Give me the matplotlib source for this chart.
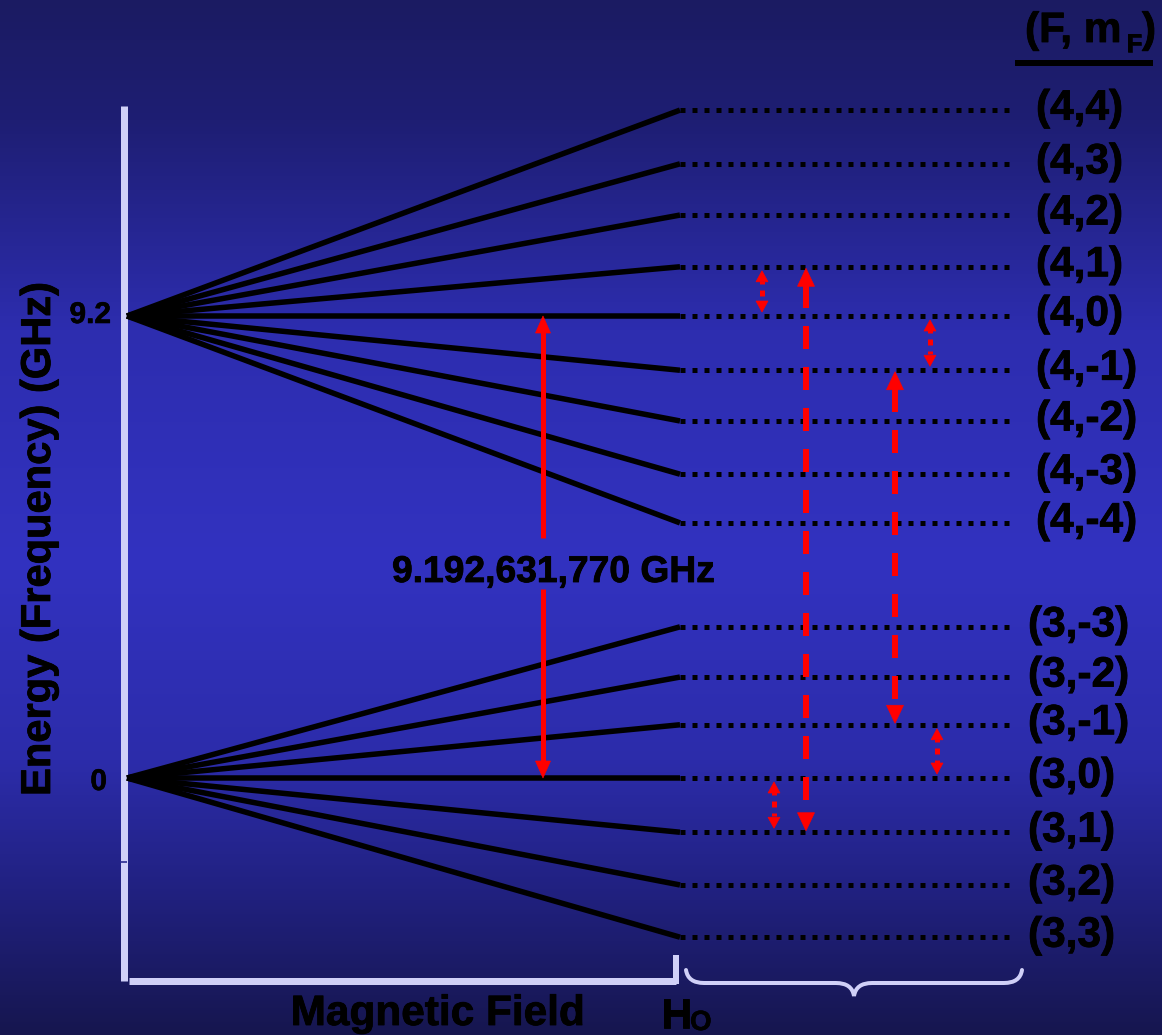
import numpy as np
import matplotlib
matplotlib.use("Agg")
import matplotlib.pyplot as plt
from matplotlib.path import Path
from matplotlib.patches import PathPatch, Polygon
import matplotlib.patheffects as pe

# ---------------- data ----------------
F_upper = 4
F_lower = 3
E_upper = 9.2          # GHz, F=4 hyperfine level
E_lower = 0.0          # GHz, F=3 hyperfine level
mF_upper = [4, 3, 2, 1, 0, -1, -2, -3, -4]
shift_upper = [4.10, 3.03, 2.01, 0.98, 0.0, -1.08, -2.09, -3.15, -4.12]   # Zeeman shift at H0
mF_lower = [-3, -2, -1, 0, 1, 2, 3]
shift_lower = [3.01, 2.01, 1.06, 0.0, -1.08, -2.13, -3.17]
ytick_values = [0.0, 9.2]
ytick_labels = ["0", "9.2"]
clock_label = "9.192,631,770 GHz"
# transitions: (F_a, mF_a, F_b, mF_b)
clock_transition = (4, 0, 3, 0)
dashed_transitions = [(4, 1, 3, 1), (4, -1, 3, -1)]
dotted_transitions = [(4, 1, 4, 0), (4, 0, 4, -1), (3, -1, 3, 0), (3, 0, 3, 1)]

# ---------------- layout helpers (pixels -> data) ----------------
W, H = 1162, 1035
X0, XS = 127.0, 553.0       # field origin pixel, pixels per H0
Y0, YS = 778.0, 50.217      # E=0 pixel row, pixels per GHz
PT = 0.72                   # points per pixel at dpi 100


def fx(px):
    return (px - X0) / XS


def fy(py):
    return (Y0 - py) / YS


def level_energy(F, m):
    if F == F_upper:
        return E_upper + shift_upper[mF_upper.index(m)]
    return E_lower + shift_lower[mF_lower.index(m)]


def to_py(E):
    return Y0 - E * YS


FAM = ["Liberation Sans", "DejaVu Sans"]
plt.rcParams["lines.scale_dashes"] = False
plt.rcParams["font.family"] = FAM

fig = plt.figure(figsize=(W / 100, H / 100), dpi=100)
ax = fig.add_axes([0, 0, 1, 1])
ax.set_xlim(fx(0), fx(W))
ax.set_ylim(fy(H), fy(0))
ax.axis("off")


def txt(x, y, s, stroke=0.6, **kw):
    kw.setdefault("color", "black")
    kw.setdefault("family", FAM)
    kw.setdefault("fontweight", "bold")
    kw.setdefault("path_effects", [pe.withStroke(linewidth=stroke, foreground="black")])
    return ax.text(x, y, s, **kw)


# ---------------- background gradient ----------------
stops_py = [0, 120, 330, 560, 760, 900, 1035]
stops_rgb = np.array([(27, 27, 98), (30, 30, 115), (45, 45, 175), (50, 50, 192),
                      (44, 44, 170), (32, 32, 125), (22, 22, 78)]) / 255.0
rows = np.arange(H)
grad = np.stack([np.interp(rows, stops_py, stops_rgb[:, c]) for c in range(3)], axis=-1)
grad = grad[:, None, :]
ax.imshow(grad, extent=(fx(0), fx(W), fy(H), fy(0)), aspect="auto", zorder=0,
          interpolation="bilinear")

LAV = "#d0d0f8"
# axes lines
ax.plot([fx(123.5), fx(123.5)], [fy(106), fy(981)], color=LAV, lw=7 * PT,
        solid_capstyle="butt", zorder=2)
ax.plot([fx(129), fx(676)], [fy(981), fy(981)], color=LAV, lw=7 * PT,
        solid_capstyle="butt", zorder=2)
ax.plot([fx(676), fx(676)], [fy(955), fy(984)], color=LAV, lw=6 * PT,
        solid_capstyle="butt", zorder=2)
ax.plot([fx(120), fx(127)], [fy(862), fy(862)], color="#2a2a90", lw=1.2,
        solid_capstyle="butt", zorder=2)

# y tick labels
txt(fx(111), ytick_values[1] - (323 - 316) / YS, ytick_labels[1], ha="right",
    va="baseline", fontsize=21.5, stroke=0.4)
txt(fx(107), ytick_values[0] - (790 - 778) / YS, ytick_labels[0], ha="right",
    va="baseline", fontsize=21.5, stroke=0.4)

# y label
txt(fx(39), fy(539), "Energy (Frequency) (GHz)", rotation=90, ha="center",
    va="center", fontsize=30)
# x label
txt(fx(438), fy(1025), "Magnetic Field", ha="center", va="baseline", fontsize=30.5)
txt(fx(661), fy(1028), "H", ha="left", va="baseline", fontsize=30.5)
txt(fx(690), fy(1030), "O", ha="left", va="baseline", fontsize=20, stroke=0.4)

# ---------------- energy levels ----------------
x_end_dot = fx(1015)
for F, E0, mlist in [(F_upper, E_upper, mF_upper), (F_lower, E_lower, mF_lower)]:
    for m in mlist:
        E1 = level_energy(F, m)
        ax.plot([0, 1], [E0, E1], color="black", lw=5.5 * PT, solid_capstyle="butt",
                zorder=3)
        ax.plot([1, x_end_dot], [E1, E1], color="black", lw=5 * PT,
                linestyle=(0, (5 * PT, 7 * PT)), dash_capstyle="butt", zorder=3)
        lx = 1036 if F == F_upper else 1028
        txt(fx(lx), E1 - 9.5 / YS, f"({F},{m})", ha="left", va="baseline",
            fontsize=30.5)

# header (F, mF)
txt(fx(1025), fy(42), "(F, m", ha="left", va="baseline", fontsize=30.5)
txt(fx(1126), fy(52), "F", ha="left", va="baseline", fontsize=19, stroke=0.4)
txt(fx(1142), fy(42), ")", ha="left", va="baseline", fontsize=30.5)
ax.plot([fx(1015), fx(1153)], [fy(63), fy(63)], color="black", lw=6 * PT,
        solid_capstyle="butt", zorder=3)

# ---------------- brace ----------------
bpx = [(686, 970), (688, 983), (704, 983), (836, 983), (852, 983), (854, 996),
       (856, 983), (872, 983), (1004, 983), (1020, 983), (1022, 970)]
codes = [Path.MOVETO, Path.CURVE3, Path.CURVE3, Path.LINETO, Path.CURVE3, Path.CURVE3,
         Path.CURVE3, Path.CURVE3, Path.LINETO, Path.CURVE3, Path.CURVE3]
brace = Path([(fx(a), fy(b)) for a, b in bpx], codes)
ax.add_patch(PathPatch(brace, fill=False, edgecolor=LAV, lw=4 * PT, capstyle="round",
                       zorder=2))

# ---------------- arrows ----------------
RED = "#ff0000"


def head(xp, tip_py, pointing_up, w, l):
    d = 1 if pointing_up else -1
    pts = [(fx(xp), fy(tip_py)), (fx(xp - w / 2), fy(tip_py + d * l)),
           (fx(xp + w / 2), fy(tip_py + d * l))]
    ax.add_patch(Polygon(pts, closed=True, facecolor=RED, edgecolor=RED, lw=0.5,
                         zorder=5))


def vertical_arrow(xp, trans, inset, w, l, lw_px, dashes=None, gap=None):
    Fa, ma, Fb, mb = trans
    pa, pb = to_py(level_energy(Fa, ma)), to_py(level_energy(Fb, mb))
    top, bot = min(pa, pb) + inset, max(pa, pb) - inset
    head(xp, top, True, w, l)
    head(xp, bot, False, w, l)
    y1, y2 = top + l - 1, bot - l + 1
    ls = "solid" if dashes is None else (0, tuple(v * PT for v in dashes))
    if gap is None:
        segs = [(y1, y2)]
    else:
        segs = [(y1, gap[0]), (gap[1], y2)]
    for s, e in segs:
        ax.plot([fx(xp), fx(xp)], [fy(s), fy(e)], color=RED, lw=lw_px * PT,
                linestyle=ls, solid_capstyle="butt", dash_capstyle="butt", zorder=4)


# clock transition (solid), interrupted by label
vertical_arrow(543, clock_transition, 0, 15, 17, 5, gap=(538, 589))
txt(fx(553.5), fy(582), clock_label, ha="center", va="baseline", fontsize=26.8, zorder=6)

# dashed transitions
dashed_x = [806, 895]
for xp, tr in zip(dashed_x, dashed_transitions):
    vertical_arrow(xp, tr, 1.5, 17, 18, 6, dashes=(23, 18))

# dotted transitions
dotted_x = [762, 930, 937, 774]
for xp, tr in zip(dotted_x, dotted_transitions):
    vertical_arrow(xp, tr, 4, 12, 11, 5, dashes=(3, 6, 6, 6))

fig.savefig("out.png", dpi=100)
